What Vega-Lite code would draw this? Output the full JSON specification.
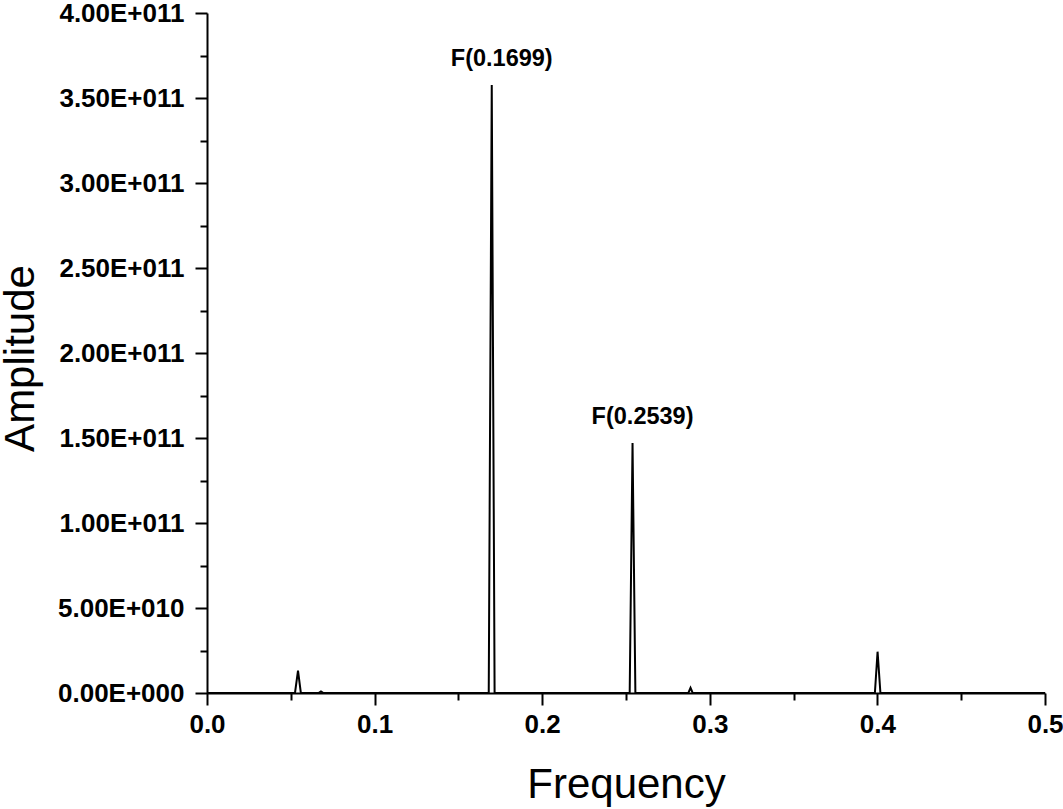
{
  "$schema": "https://vega.github.io/schema/vega-lite/v6.json",
  "width": 838,
  "height": 680,
  "autosize": {"type": "none"},
  "padding": {"left": 207, "top": 13, "right": 18, "bottom": 116},
  "background": "white",
  "config": {
    "view": {"stroke": null},
    "axis": {
      "grid": false,
      "domainColor": "black",
      "tickColor": "black",
      "domainWidth": 2,
      "tickWidth": 2,
      "labelColor": "black",
      "titleColor": "black",
      "labelFont": "Liberation Sans",
      "titleFont": "Liberation Sans",
      "labelFontWeight": "bold",
      "labelFontSize": 26,
      "labelFlush": false,
      "labelOverlap": false,
      "titleFontWeight": "normal",
      "titleFontSize": 42
    }
  },
  "datasets": {
    "spectrum": [
      {"frequency": 0.0, "amplitude": 0},
      {"frequency": 0.0525, "amplitude": 0},
      {"frequency": 0.0543, "amplitude": 13200000000},
      {"frequency": 0.056, "amplitude": 0},
      {"frequency": 0.0665, "amplitude": 0},
      {"frequency": 0.068, "amplitude": 900000000},
      {"frequency": 0.0695, "amplitude": 0},
      {"frequency": 0.1681, "amplitude": 0},
      {"frequency": 0.1699, "amplitude": 357600000000},
      {"frequency": 0.1716, "amplitude": 0},
      {"frequency": 0.2522, "amplitude": 0},
      {"frequency": 0.2539, "amplitude": 147000000000},
      {"frequency": 0.2556, "amplitude": 0},
      {"frequency": 0.2872, "amplitude": 0},
      {"frequency": 0.2885, "amplitude": 3000000000},
      {"frequency": 0.2898, "amplitude": 0},
      {"frequency": 0.3985, "amplitude": 0},
      {"frequency": 0.4001, "amplitude": 24300000000},
      {"frequency": 0.4018, "amplitude": 0},
      {"frequency": 0.5, "amplitude": 0}
    ],
    "peaks": [
      {"frequency": 0.1699, "amplitude": 357600000000, "label": "F(0.1699)"},
      {"frequency": 0.2539, "amplitude": 147000000000, "label": "F(0.2539)"}
    ]
  },
  "layer": [
    {
      "data": {"name": "spectrum"},
      "mark": {"type": "line", "color": "black", "strokeWidth": 2},
      "encoding": {
        "x": {
          "field": "frequency",
          "type": "quantitative",
          "scale": {"domain": [0, 0.5], "nice": false, "zero": false},
          "axis": {
            "orient": "bottom",
            "values": [0, 0.1, 0.2, 0.3, 0.4, 0.5],
            "format": ".1f",
            "tickSize": 12,
            "labelPadding": 6,
            "title": "Frequency",
            "titleY": 104,
            "titleBaseline": "alphabetic"
          }
        },
        "y": {
          "field": "amplitude",
          "type": "quantitative",
          "scale": {"domain": [0, 400000000000], "nice": false},
          "axis": {
            "orient": "left",
            "values": [0, 50000000000, 100000000000, 150000000000, 200000000000, 250000000000, 300000000000, 350000000000, 400000000000],
            "labelExpr": "datum.value == 0 ? '0.00E+000' : replace(upper(format(datum.value, '.2e')), 'E+', 'E+0')",
            "tickSize": 12,
            "labelPadding": 11,
            "title": "Amplitude",
            "titleAngle": -90,
            "titleAlign": "center",
            "titleBaseline": "alphabetic",
            "titleX": -174,
            "titleY": 345
          }
        }
      }
    },
    {
      "data": {"name": "spectrum"},
      "mark": {"type": "line", "opacity": 0},
      "encoding": {
        "x": {
          "field": "frequency",
          "type": "quantitative",
          "axis": {
            "orient": "bottom",
            "values": [0.05, 0.15, 0.25, 0.35, 0.45],
            "labels": false,
            "domain": false,
            "tickSize": 7,
            "title": null
          }
        },
        "y": {
          "field": "amplitude",
          "type": "quantitative",
          "axis": {
            "orient": "left",
            "values": [25000000000, 75000000000, 125000000000, 175000000000, 225000000000, 275000000000, 325000000000, 375000000000],
            "labels": false,
            "domain": false,
            "tickSize": 7,
            "title": null
          }
        }
      }
    },
    {
      "data": {"name": "peaks"},
      "mark": {
        "type": "text",
        "font": "Liberation Sans",
        "fontWeight": "bold",
        "fontSize": 23.5,
        "color": "black",
        "align": "center",
        "baseline": "alphabetic",
        "dx": 10,
        "dy": -19
      },
      "encoding": {
        "x": {"field": "frequency", "type": "quantitative", "axis": null},
        "y": {"field": "amplitude", "type": "quantitative", "axis": null},
        "text": {"field": "label"}
      }
    }
  ],
  "resolve": {"axis": {"x": "independent", "y": "independent"}}
}
